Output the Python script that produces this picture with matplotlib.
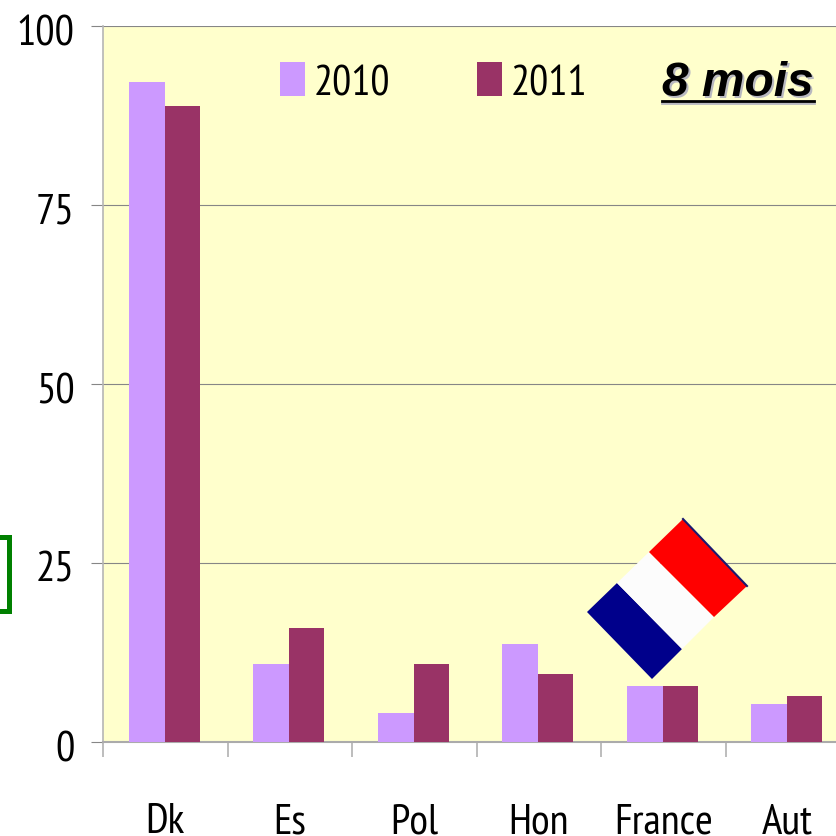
import matplotlib
matplotlib.use('Agg')
import numpy as np
from matplotlib import pyplot as plt
from matplotlib.patches import Polygon, Rectangle
from matplotlib.lines import Line2D
from matplotlib.transforms import ScaledTranslation

categories = ['Dk', 'Es', 'Pol', 'Hon', 'France', 'Aut']
values_2010 = [92.2, 10.9, 4.0, 13.7, 7.8, 5.3]
values_2011 = [88.8, 15.9, 10.9, 9.5, 7.8, 6.4]
yticks = [0, 25, 50, 75, 100]

W = 836
color_2010 = '#CC99FF'
color_2011 = '#993366'
font = ['PT Sans Narrow', 'Open Sans', 'DejaVu Sans']
fsize = 31

def px(x, y):
    # picture pixels -> figure fraction
    return x / W, 1 - y / W

fig = plt.figure(figsize=(8.36, 8.36), dpi=100, facecolor='white')
# axes runs past the right edge of the picture, like the reference
ax = fig.add_axes([103 / W, 1 - 742 / W, 747 / W, 716 / W], facecolor='#FFFFCC')

x = np.arange(len(categories)) + 0.5
w1 = 0.29
w2 = 0.28
ax.bar(x - w1 / 2 - 0.003, values_2010, w1, color=color_2010, zorder=3)
ax.bar(x + w2 / 2 - 0.003, values_2011, w2, color=color_2011, zorder=3)

ax.set_xlim(0, 6)
ax.set_ylim(0, 100)
ax.set_yticks(yticks)
ax.set_xticks(np.arange(7))
ax.set_xticklabels([])
ax.grid(axis='y', color='#868686', lw=0.8, zorder=1)
ax.tick_params(axis='y', length=8.5, width=0.8, color='#868686', pad=12, labelsize=fsize)
ax.tick_params(axis='x', length=11, width=1.1, color='#ABABAB')
# y labels sit a little under their tick
shift = ScaledTranslation(0, -4 / 100, fig.dpi_scale_trans)
for lab in ax.get_yticklabels():
    lab.set_family(font)
    lab.set_transform(lab.get_transform() + shift)
for s in ['top', 'right']:
    ax.spines[s].set_visible(False)
ax.spines['left'].set_color('#B5B5B5')
ax.spines['left'].set_linewidth(1.2)
ax.spines['bottom'].set_color('#ABABAB')
ax.spines['bottom'].set_linewidth(1.5)

for xp, name in zip(x, categories):
    ax.annotate(name, (xp, 0), xytext=(0, -91), xycoords='data', textcoords='offset pixels',
                ha='center', va='baseline', fontsize=fsize, family=font, annotation_clip=False)

# legend
for x0, col, lab, tx in [(280, color_2010, '2010', 314), (477, color_2011, '2011', 511)]:
    fx, fy = px(x0, 96)
    fig.add_artist(Rectangle((fx, fy), 25 / W, 34 / W, transform=fig.transFigure, color=col, lw=0))
    fx, fy = px(tx, 95)
    fig.text(fx, fy, lab, fontsize=30.5, family=font, va='baseline', ha='left')

# title with shadow and underline
fx, fy = px(662, 96)
title_kw = dict(fontsize=34.5, family='Liberation Sans', weight='bold', style='italic')
fig.text(fx + 2 / W, fy - 2 / W, '8 mois', color='#B8B8C0', **title_kw)
fig.text(fx, fy, '8 mois', color='black', **title_kw)
xs, ys = zip(px(662, 101), px(814, 101))
fig.add_artist(Line2D(xs, [ys[0] - 2 / W] * 2, color='#B8B8C0', lw=2))
fig.add_artist(Line2D(xs, ys, color='black', lw=2))

# flag
flag = [
    ('#00008B', [(587, 612), (617, 583), (682, 649), (652, 679)]),
    ('#FCFCFC', [(617, 583), (649, 552), (714, 617), (682, 649)]),
    ('#FF0000', [(649, 552), (683, 519), (747, 586), (714, 617)]),
]
for col, pts in flag:
    fig.add_artist(Polygon([px(*p) for p in pts], closed=True, transform=fig.transFigure,
                           facecolor=col, edgecolor='none', zorder=5))
xs, ys = zip(px(683, 519), px(747, 586))
fig.add_artist(Line2D(xs, ys, color='#1A1A70', lw=1.5, zorder=6))

# green bracket cut by the left edge
pts = [px(-5, 536.5), px(9, 536.5), px(9, 610.5), px(-5, 610.5)]
xs, ys = zip(*pts)
fig.add_artist(Line2D(xs, ys, color='#008000', lw=3.6, solid_joinstyle='miter'))

fig.savefig('out.png', dpi=100)
